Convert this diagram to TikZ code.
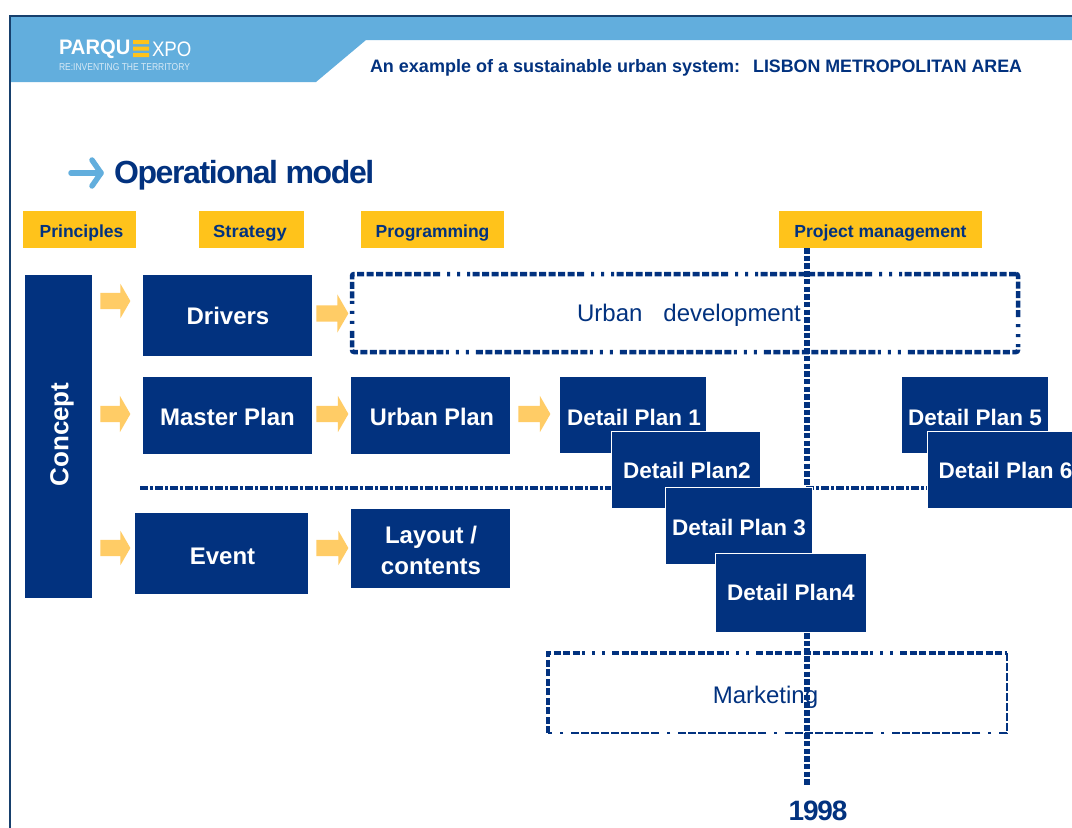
\documentclass[tikz,border=0pt]{standalone}
\usepackage{fontspec}
\setmainfont{Liberation Sans}
\newfontfamily\tightfont[LetterSpace=-4.3]{Liberation Sans}
\usetikzlibrary{shapes.arrows}
\definecolor{navy}{HTML}{02327F}
\definecolor{framec}{HTML}{17406D}
\definecolor{sky}{HTML}{62AEDD}
\definecolor{gold}{HTML}{FFC31B}
\definecolor{peach}{HTML}{FFCC66}
\definecolor{logotag}{HTML}{D8EAF6}
\newcommand{\fsz}[1]{\fontsize{#1}{#1}\selectfont}
\tikzset{
  every node/.style={inner sep=0pt,outer sep=0pt},
  bluebox/.style={fill=navy,text=white,font=\fsz{24}\bfseries,anchor=center},
  detailbox/.style={fill=navy,draw=white,line width=0.6pt,text=white,font=\fsz{22.5}\bfseries,minimum width=147pt,minimum height=77pt,anchor=center},
  tagbox/.style={fill=gold,text=navy,font=\fsz{17.5}\bfseries,minimum height=37pt,text height=15pt,text depth=0pt,anchor=center},
  blockarrow/.style={single arrow,fill=peach,inner xsep=0pt,inner ysep=8pt,single arrow head extend=9pt,single arrow tip angle=120,anchor=center},
  thickdash/.style={draw=navy,line width=4.5pt,dash pattern=on 7pt off 2.5pt on 7pt off 2.5pt on 7pt off 2.5pt on 7pt off 2.5pt on 7pt off 2.5pt on 7pt off 2.5pt on 7pt off 2.5pt on 7pt off 2.5pt on 7pt off 2.5pt on 7pt off 2.5pt on 7pt off 2.5pt on 7pt off 2.5pt on 3pt off 7pt on 3pt off 7pt on 3pt off 7pt},
  thindash/.style={draw=navy,line width=1.6pt,dash pattern=on 8pt off 2pt on 8pt off 2pt on 8pt off 2pt on 8pt off 2pt on 8pt off 2pt on 8pt off 2pt on 8pt off 2pt on 8pt off 2pt on 8pt off 8pt on 3pt off 8pt},
  vdash/.style={draw=navy,line width=5.5pt,dash pattern=on 5.5pt off 2.2pt},
  hdash/.style={draw=navy,line width=3.5pt,dash pattern=on 8pt off 2pt on 3pt off 2pt},
  bodytext/.style={text=navy,font=\fsz{24}},
  base/.style={text height=#1,text depth=0pt},
}
\begin{document}
\begin{tikzpicture}[x=1pt,y=-1pt]
\useasboundingbox (0,0) rectangle (1072,828);
\fill[white] (0,0) rectangle (1072,828);
% page frame
\draw[framec,line width=2pt] (9.5,828) -- (9.5,15.5) -- (1072,15.5);
% header band
\fill[sky] (11,17) -- (1072,17) -- (1072,40) -- (366,40) -- (316,82) -- (11,82) -- cycle;
% logo
\node[anchor=west,text=white,font=\fsz{21}\bfseries] (logoa) at (59,49.5) {\scalebox{.96}[1]{PARQU}};
\fill[gold] (133,40) rectangle (149,44) (133,46.5) rectangle (149,50.5) (133,53) rectangle (149,57);
\node[anchor=west,text=white,font=\fsz{21}] (logob) at (152,49.5) {\scalebox{.89}[1]{XPO}};
\node[anchor=west,text=logotag,font=\fsz{10}] (logoc) at (59,67) {\scalebox{.85}[1]{RE:INVENTING THE TERRITORY}};
% header title
\node[anchor=west,text=navy,font=\fsz{18}\bfseries] (htitle) at (370,67.5) {An example of a sustainable urban system:\hspace{13pt}\scalebox{.99}[1]{LISBON METROPOLITAN AREA}};
% title
\coordinate (ta) at (71,173);
\coordinate (tb) at (101,173);
\draw[sky,line width=5.5pt,line cap=round,line join=round] (ta) -- (tb);
\draw[sky,line width=5.5pt,line cap=round,line join=round] (92,160) -- (tb) -- (92,186);
\node[anchor=west,text=navy,font=\fsz{32}\tightfont\bfseries] (title) at (114,175) {Operational model};
% tags
\node[tagbox,minimum width=113pt] (tprin) at (79.5,229.5) {\hspace*{4pt}Principles};
\node[tagbox,minimum width=105pt] (tstra) at (251.5,229.5) {\scalebox{1.05}[1]{Strategy}\hspace*{3pt}};
\node[tagbox,minimum width=143pt] (tprog) at (432.5,229.5) {Programming};
\node[tagbox,minimum width=203pt] (tproj) at (880.5,229.5) {Project management};
% dashed frames
\node[thickdash,rectangle,rounded corners=2pt,minimum width=666pt,minimum height=78pt,anchor=center] (urbandev) at (685,313) {};
\node[bodytext,anchor=center] (urbantext) at (689,315) {Urban\hspace{21pt}development};
\coordinate (mtl) at (548,653);
\coordinate (mtr) at (1007,653);
\coordinate (mbr) at (1007,733);
\coordinate (mbl) at (548,733);
\draw[thickdash] (mbl) -- (mtl) -- (mtr);
\draw[thindash] (mtr) -- (mbr) -- (mbl);
\node[bodytext,anchor=center] (marktext) at (765.5,697) {Marketing};
% time line and divider
\coordinate (vend) at (807,785);
\draw[vdash] (807,248) -- (vend);
\coordinate (hstart) at (140,488);
\coordinate (hmida) at (700,488);
\coordinate (hmidb) at (806,488);
\coordinate (hend) at (930,488);
\draw[hdash] (hstart) -- (hmida);
\draw[hdash] (hmidb) -- (hend);
% blue boxes
\node[bluebox,minimum width=67pt,minimum height=323pt] (concept) at (58.5,436.5) {};
\node[text=white,font=\fsz{26}\bfseries,rotate=90,anchor=center] (concepttext) at (62,434.5) {Concept};
\node[bluebox,base=18pt,minimum width=169pt,minimum height=81pt] (drivers) at (227.5,315.5) {\hspace*{1pt}Drivers};
\node[bluebox,base=20pt,minimum width=169pt,minimum height=77pt] (master) at (227.5,415.5) {Master Plan};
\node[bluebox,base=22pt,minimum width=173pt,minimum height=81pt] (event) at (221.5,553.5) {\hspace*{2pt}Event};
\node[bluebox,base=20pt,minimum width=159pt,minimum height=77pt] (urbanplan) at (430.5,415.5) {\hspace*{3pt}\scalebox{.98}[1]{Urban Plan}};
\node[bluebox,minimum width=159pt,minimum height=79pt] (layout) at (430.5,548.5) {};
\node[text=white,font=\fsz{24}\bfseries,align=center,anchor=center] (layouttext) at (431,550.5) {Layout /\\[7pt]contents};
% block arrows
\node[blockarrow,minimum height=30pt] (a1) at (113,301) {};
\node[blockarrow,minimum height=32pt,single arrow head extend=11pt] (a2) at (330,313.5) {};
\node[blockarrow,minimum height=30pt,single arrow head extend=10pt] (a3) at (113,414) {};
\node[blockarrow,minimum height=32pt,single arrow head extend=10pt] (a4) at (330,414) {};
\node[blockarrow,minimum height=32pt,single arrow head extend=10pt] (a5) at (532,414) {};
\node[blockarrow,minimum height=30pt] (a6) at (113,548) {};
\node[blockarrow,minimum height=32pt] (a7) at (330,548) {};
% detail plans
\node[detailbox,base=22pt] (dp1) at (633,414.5) {\hspace*{2pt}Detail Plan 1};
\node[detailbox,base=16pt,minimum width=149pt] (dp2) at (686,470) {\hspace*{2pt}Detail Plan2};
\node[detailbox,base=20pt] (dp3) at (739,525.5) {Detail Plan 3};
\node[detailbox,base=14pt,minimum width=151pt,minimum height=79pt] (dp4) at (791,593) {Detail Plan4};
\node[detailbox,base=22pt] (dp5) at (975,414.5) {Detail Plan 5};
\node[detailbox,base=16pt,minimum width=153pt] (dp6) at (1004,470) {\hspace*{3pt}Detail Plan 6};
\node[anchor=center,text=navy,font=\fsz{28}\tightfont\bfseries] (year) at (818,811) {1998};
\end{tikzpicture}
\end{document}
